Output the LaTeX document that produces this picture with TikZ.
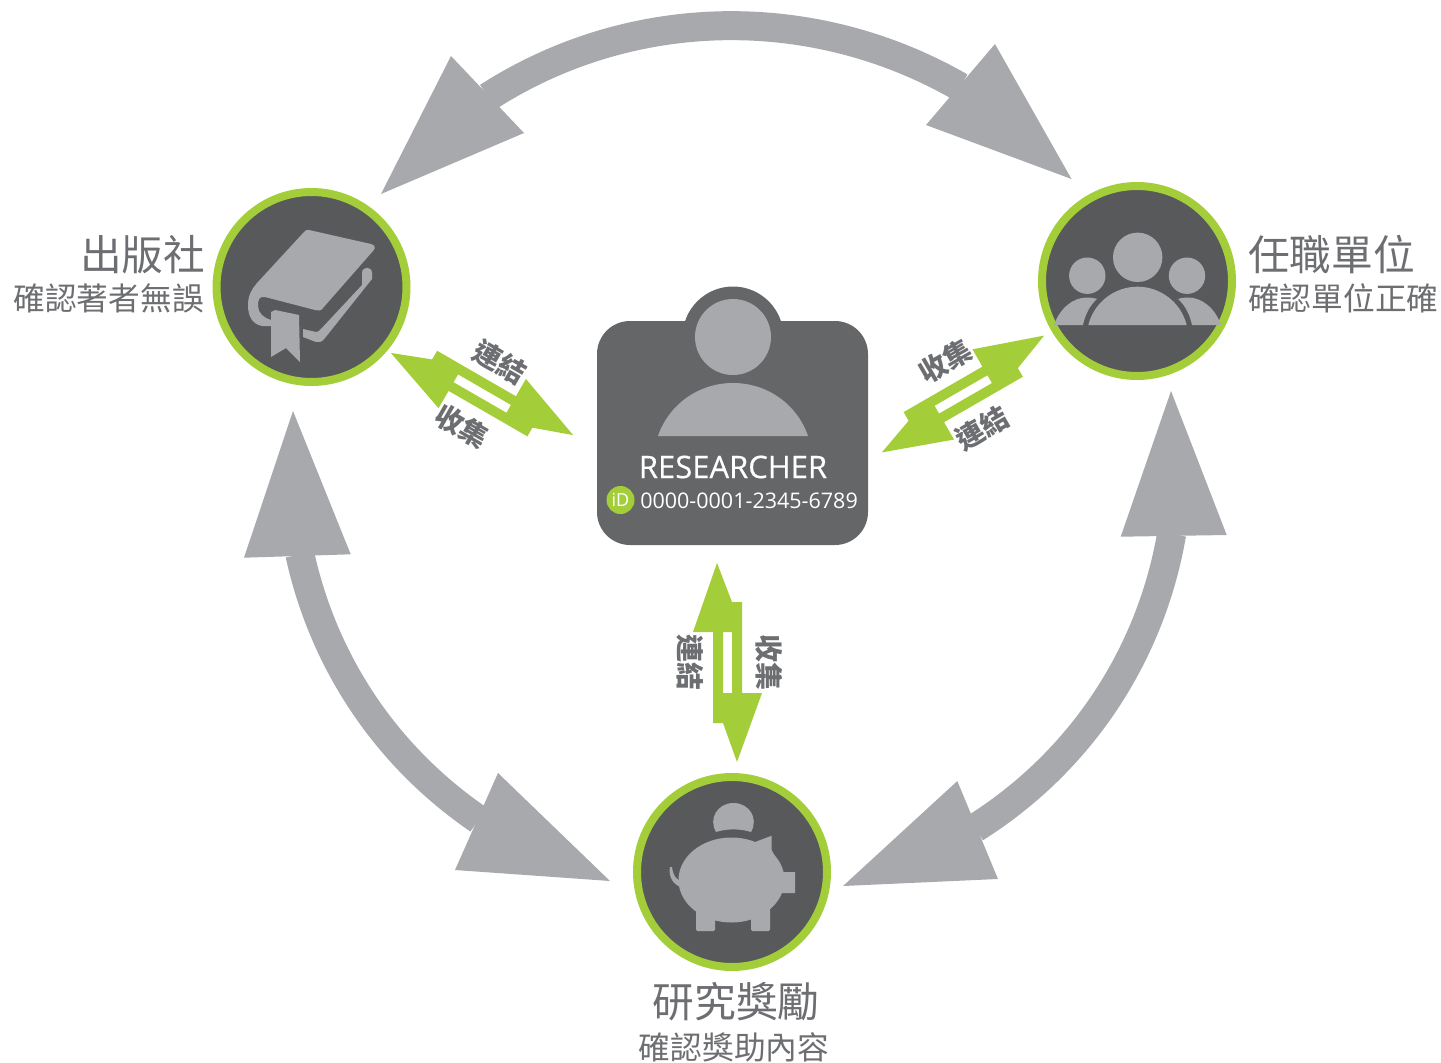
\documentclass[tikz,border=0pt]{standalone}
\usepackage{fontspec}
\usepackage{xcolor}
\usetikzlibrary{positioning}
\newfontfamily\cjk{Noto Sans CJK TC}
\newfontfamily\latn{Open Sans}
\newfontfamily\latnb[FakeBold=0.4]{Open Sans}
\definecolor{orcidgreen}{HTML}{A4CE39}
\definecolor{badgegray}{HTML}{656668}
\definecolor{discgray}{HTML}{58595B}
\definecolor{icongray}{HTML}{A7A9AC}
\definecolor{labelgray}{HTML}{6D6E71}
\tikzset{
  bigshaft/.style = {draw=icongray, line width=29pt, shorten <=-2pt, shorten >=-2pt},
  disc/.style = {circle, draw=orcidgreen, fill=discgray, line width=8pt, minimum size=190pt, inner sep=0pt},
  title/.style = {font=\cjk\fontsize{41.7}{42}\selectfont, text=labelgray, inner sep=0pt},
  subtitle/.style = {font=\cjk\fontsize{31.7}{32}\selectfont, text=labelgray, inner sep=0pt},
  linklabel/.style = {font=\cjk\bfseries\fontsize{28}{28}\selectfont, text=labelgray, inner sep=0pt},
  pics/linkpair/.style = {code = {
    \fill[orcidgreen, even odd rule] (-10,-99.5) -- (5,-60.5) -- (15,-60.5) -- (15,30.5) -- (35,30.5) -- (10,99.5)
      -- (-4,60.5) -- (-14,60.5) -- (-14,-30.5) -- (-34,-30.5) -- cycle
      (-4,-30.5) rectangle (5,30.5);
  }}
}
\begin{document}
\begin{tikzpicture}[x=1pt, y=-1pt]
  \useasboundingbox (0,0) rectangle (1441,1063);
  \coordinate (topA) at (489.5,96);
  \coordinate (topB) at (958.5,86);
  \coordinate (leftA) at (300.3,556.3);
  \coordinate (leftB) at (477,818.5);
  \coordinate (rightA) at (1171.3,536);
  \coordinate (rightB) at (976.8,827);
  \draw[bigshaft] (topA) .. controls (631,5) and (813,2.3) .. (topB);
  \draw[bigshaft] (leftA) .. controls (323.8,663.2) and (386.7,756.7) .. (leftB);
  \draw[bigshaft] (rightA) .. controls (1150.6,656.1) and (1079.9,762) .. (rightB);
  \foreach \tx/\ty/\ax/\ay/\bx/\by in {381/194/451/56/524/133, 1071.5/179/995/44/926/125,
      293/411/244/557.7/350.7/554.3, 610/881/498/773/455/870,
      1171/391/1120.7/536.7/1226.7/535, 843/886/957.3/781/998/879}
    \fill[icongray] (\tx,\ty) -- (\ax,\ay) -- (\bx,\by) -- cycle;

  \node[disc] (pub) at (311.5,287) {};
  \node[disc] (emp) at (1137,281) {};
  \node[disc] (fund) at (732,872) {};

  \pic[rotate=60] (pairL) at (482,394) {linkpair};
  \pic[rotate=-60] (pairR) at (963,394) {linkpair};
  \pic (pairB) at (727,662.5) {linkpair};
  \node[linklabel, rotate=-30] (linkL) at (500,362) {連結};
  \node[linklabel, rotate=-30] (collectL) at (462,426) {收集};
  \node[linklabel, rotate=30] (collectR) at (945,361) {收集};
  \node[linklabel, rotate=30] (linkR) at (982,428) {連結};
  \node[linklabel, rotate=-90] (linkB) at (690,662) {連結};
  \node[linklabel, rotate=-90] (collectB) at (769,662) {收集};

  \node[title, anchor=east] (pubT) at (205.5,255) {出版社};
  \node[subtitle, anchor=east] (pubS) at (204,298) {確認著者無誤};
  \node[title, anchor=west] (empT) at (1248,254.5) {任職單位};
  \node[subtitle, anchor=west] (empS) at (1248,298) {確認單位正確};
  \node[title] (fundT) at (736,1002) {研究獎勵};
  \node[subtitle] (fundS) at (734,1047) {確認獎助內容};

  % badge
  \fill[badgegray, rounded corners=33pt] (597,321) rectangle (868,545);
  \node[circle, fill=badgegray, minimum size=101pt, inner sep=0pt] (bump) at (733,337) {};
  \node[circle, fill=icongray, minimum size=76pt, inner sep=0pt] (head) at (733,337) {};
  \fill[icongray] (658,436) .. controls (669,404) and (699,383) .. (733,383)
    .. controls (767,383) and (797,404) .. (808,436) -- cycle;
  \node[text=white, inner sep=0pt, font=\latnb\fontsize{31}{31}\selectfont] (researcher) at (733,467) {RESEARCHER};
  \node[text=white, inner sep=0pt, font=\latn\fontsize{21.5}{22}\selectfont] (orcid) at (749,501) {0000-0001-2345-6789};
  \node[circle, fill=orcidgreen, minimum size=28pt, inner sep=0pt, text=white, font=\latn\fontsize{18}{18}\selectfont] (idmark) at (620.5,500) {iD};

  % book
  \fill[icongray] (309,230) -- (371,244) .. controls (375,245) and (376,248) .. (373,251) -- (323,308)
    .. controls (321,311) and (318,311) .. (315,310) -- (265,297)
    .. controls (259,296) and (258,300) .. (258,306) .. controls (258,313) and (264,318) .. (271,320)
    -- (271,326) -- (262,326) .. controls (252,324) and (248,316) .. (248,305)
    .. controls (248,295) and (252,289) .. (257,283) -- (304,232) .. controls (305,230) and (307,230) .. (309,230) -- cycle;
  \fill[icongray] (362,285) -- (362,273) .. controls (362,266) and (372,266) .. (372,273) -- (372,279) -- (325,338)
    .. controls (322,342) and (319,343) .. (316,342) -- (303,337) -- (303,329) -- (316,332) .. controls (318,332) and (319,331) .. (320,330) -- cycle;
  \fill[icongray] (271,312) -- (275,310) -- (299,315) -- (300,362) -- (286,348) -- (271,357) -- cycle;

  % people
  \foreach \hx/\hy/\hr in {1137.7/257.3/24.7, 1087.3/275.7/18.2, 1187/275.7/18.2}
    \fill[icongray] (\hx,\hy) circle[radius=\hr];
  \fill[icongray] (1088.3,325) .. controls (1094,302.5) and (1114.3,286.7) .. (1137.5,286.7)
    .. controls (1160.7,286.7) and (1181,302.5) .. (1186.7,325) -- cycle;
  \fill[icongray] (1054,325) .. controls (1060,308) and (1073,297.5) .. (1087,297.5)
    .. controls (1090,297.5) and (1094,298) .. (1097,299) .. controls (1090,305) and (1085,315) .. (1083,325) -- cycle;
  \fill[icongray] (1221,325) .. controls (1215,308) and (1202,297.5) .. (1188,297.5)
    .. controls (1185,297.5) and (1181,298) .. (1178,299) .. controls (1185,305) and (1190,315) .. (1192,325) -- cycle;

  % piggy bank
  \fill[icongray] (716,832) .. controls (708,818) and (718,803) .. (733.5,803)
    .. controls (749,803) and (759,818) .. (751,832) .. controls (740,828.5) and (727,828.5) .. cycle;
  \fill[icongray] (731.5,880) ellipse[x radius=53, y radius=42.5];
  \fill[icongray] (755,842) -- (771.7,835.7) -- (771.7,850) -- (783,872) -- (795,872) -- (795,893) -- (780,893) -- (760,860) -- cycle;
  \fill[icongray, rounded corners=1.5pt] (696,905) -- (696,931) -- (715,931) -- (715,915) -- cycle;
  \fill[icongray, rounded corners=1.5pt] (751,915) -- (751,931) -- (770,931) -- (770,905) -- cycle;
  \fill[icongray] (670,867) .. controls (668,876) and (673,886) .. (684,888) -- (685,883) .. controls (677,881) and (673,876) .. (672,867) -- cycle;
\end{tikzpicture}
\end{document}
